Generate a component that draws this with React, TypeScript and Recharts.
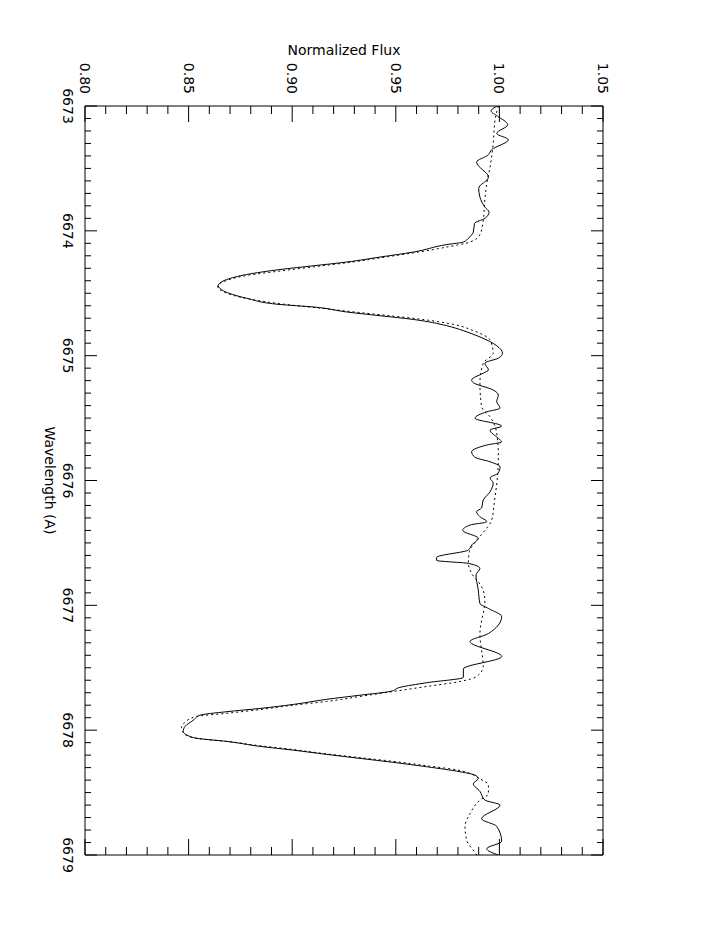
import { LineChart, Line, XAxis, YAxis, ReferenceArea } from "recharts";

// plot box in the landscape frame (the whole chart is turned 90deg clockwise)
const CHART_W = 952;
const CHART_H = 702;
const PLOT_L = 106;
const PLOT_R = 855;
const PLOT_T = 99;
const PLOT_B = 617;
const X_AXIS_H = 30;
const Y_AXIS_W = 40;
const FONT = "'DejaVu Sans', sans-serif";

const WAVE_MAJOR = [6673, 6674, 6675, 6676, 6677, 6678, 6679];
const FLUX_MAJOR = [0.8, 0.85, 0.9, 0.95, 1.0, 1.05];

// observed spectrum (solid)
const OBS_WAVE = [
  6673.0, 6673.04, 6673.08, 6673.15, 6673.22, 6673.27, 6673.35, 6673.39, 6673.45, 6673.57,
  6673.66, 6673.73, 6673.81, 6673.85, 6673.9, 6673.94, 6674.01, 6674.06, 6674.09, 6674.11,
  6674.17, 6674.21, 6674.25, 6674.28, 6674.31, 6674.35, 6674.39, 6674.44, 6674.48, 6674.54,
  6674.59, 6674.61, 6674.65, 6674.68, 6674.71, 6674.76, 6674.8, 6674.85, 6674.92, 6674.98,
  6675.02, 6675.06, 6675.115, 6675.14, 6675.195, 6675.216, 6675.275, 6675.315, 6675.368, 6675.42,
  6675.45, 6675.5, 6675.564, 6675.596, 6675.663, 6675.69, 6675.716, 6675.77, 6675.814, 6675.85,
  6675.89, 6675.94, 6675.98, 6676.02, 6676.09, 6676.157, 6676.22, 6676.25, 6676.29, 6676.33,
  6676.357, 6676.4, 6676.463, 6676.517, 6676.557, 6676.616, 6676.64, 6676.664, 6676.704, 6676.757,
  6676.877, 6676.985, 6677.025, 6677.09, 6677.226, 6677.29, 6677.41, 6677.51, 6677.577, 6677.62,
  6677.657, 6677.69, 6677.72, 6677.753, 6677.794, 6677.826, 6677.852, 6677.88, 6677.92, 6677.97,
  6678.01, 6678.05, 6678.065, 6678.09, 6678.13, 6678.16, 6678.194, 6678.226, 6678.258, 6678.293,
  6678.333, 6678.36, 6678.387, 6678.43, 6678.49, 6678.56, 6678.6, 6678.71, 6678.77, 6678.89,
  6678.95, 6679.0,
];
const OBS_FLUX = [
  0.999, 0.996, 0.999, 1.004, 0.9987, 1.0043, 0.9963, 0.9947, 0.989, 0.9947,
  0.99, 0.9906, 0.993, 0.995, 0.993, 0.988, 0.9874, 0.985, 0.9826, 0.9746,
  0.9585, 0.9424, 0.9263, 0.9102, 0.8941, 0.878, 0.8684, 0.8643, 0.8668, 0.878,
  0.8941, 0.9102, 0.9263, 0.9424, 0.9585, 0.9746, 0.9826, 0.9906, 0.9987, 1.0015,
  0.9995, 0.993, 0.9947, 0.9922, 0.9866, 0.9874, 0.997, 0.9995, 0.9987, 1.0003,
  0.9939, 0.9882, 1.0011, 0.9955, 0.9995, 1.0011, 0.9939, 0.9866, 0.9882, 0.9955,
  1.0003, 0.9995, 0.9955, 0.997, 0.9955, 0.9922, 0.9914, 0.989, 0.9906, 0.9939,
  0.9858, 0.9823, 0.9898, 0.9866, 0.985, 0.9697, 0.9697, 0.985, 0.9906, 0.9887,
  0.9898, 0.9906, 0.9947, 1.0011, 0.9947, 0.9858, 1.0011, 0.9826, 0.9826, 0.9649,
  0.952, 0.9472, 0.9327, 0.9166, 0.9005, 0.8845, 0.8684, 0.8555, 0.8523, 0.8483,
  0.8474, 0.8507, 0.8539, 0.8684, 0.8845, 0.9005, 0.9166, 0.9327, 0.9488, 0.9649,
  0.981, 0.9882, 0.9898, 0.9874, 0.9906, 0.993, 1.0003, 0.9914, 0.9987, 1.0011,
  0.9939, 0.9995,
];

// model spectrum (dotted)
const MODEL_WAVE = [
  6673.0, 6673.1, 6673.3, 6673.49, 6673.62, 6673.75, 6673.94, 6674.03, 6674.09, 6674.13,
  6674.17, 6674.21, 6674.25, 6674.285, 6674.32, 6674.355, 6674.4, 6674.445, 6674.49, 6674.545,
  6674.59, 6674.62, 6674.65, 6674.68, 6674.71, 6674.75, 6674.8, 6674.875, 6674.98, 6675.06,
  6675.22, 6675.41, 6675.49, 6675.62, 6675.81, 6675.98, 6676.18, 6676.317, 6676.4, 6676.48,
  6676.57, 6676.66, 6676.744, 6676.85, 6676.958, 6677.23, 6677.49, 6677.57, 6677.61, 6677.65,
  6677.69, 6677.73, 6677.77, 6677.8, 6677.835, 6677.865, 6677.89, 6677.94, 6677.98, 6678.02,
  6678.05, 6678.07, 6678.09, 6678.125, 6678.155, 6678.19, 6678.22, 6678.25, 6678.285, 6678.32,
  6678.39, 6678.44, 6678.51, 6678.56, 6678.67, 6678.77, 6678.88, 6678.98, 6679.0,
];
const MODEL_FLUX = [
  0.9995, 0.998, 0.997, 0.9955, 0.9939, 0.993, 0.992, 0.9906, 0.9858, 0.9746,
  0.961, 0.945, 0.929, 0.912, 0.895, 0.879, 0.868, 0.864, 0.867, 0.879,
  0.897, 0.914, 0.93, 0.947, 0.963, 0.978, 0.9875, 0.9955, 0.997, 0.9922,
  0.9906, 0.9914, 0.9955, 0.9987, 0.9995, 0.999, 0.9975, 0.9963, 0.993, 0.989,
  0.9855, 0.985, 0.9866, 0.9914, 0.993, 0.9906, 0.9922, 0.989, 0.981, 0.9649,
  0.9488, 0.9327, 0.9166, 0.9005, 0.8845, 0.8684, 0.8539, 0.848, 0.8466, 0.8475,
  0.8499, 0.856, 0.8684, 0.8845, 0.9005, 0.9166, 0.9327, 0.9488, 0.9649, 0.98,
  0.9906, 0.9947, 0.9947, 0.9906, 0.9858, 0.9834, 0.9842, 0.9882, 0.989,
];

const obsData = OBS_WAVE.map((w, i) => ({ w, f: OBS_FLUX[i] }));
const modelData = MODEL_WAVE.map((w, i) => ({ w, f: MODEL_FLUX[i] }));

// minor ticks every 0.1 A and every 0.01 in flux
const waveTicks: number[] = [];
for (let i = 0; i <= 60; i++) waveTicks.push(Math.round((6673 + i * 0.1) * 10) / 10);
const fluxTicks: number[] = [];
for (let i = 0; i <= 25; i++) fluxTicks.push(Math.round((0.8 + i * 0.01) * 100) / 100);

const isMajor = (majors: number[], v: number) => majors.some((m) => Math.abs(m - v) < 1e-6);

const renderWaveTick = (props: any) => {
  const { x, payload, index } = props;
  const v = Number(payload.value);
  const major = isMajor(WAVE_MAJOR, v);
  const len = major ? 12 : 6;
  return (
    <g key={`wt-${index}`}>
      <line x1={x} x2={x} y1={PLOT_B} y2={PLOT_B - len} stroke="#000" />
      <line x1={x} x2={x} y1={PLOT_T} y2={PLOT_T + len} stroke="#000" />
      {major && (
        <text x={x} y={PLOT_B + 17} textAnchor="middle" dominantBaseline="central"
          fontFamily={FONT} fontSize={14} fill="#000">
          {Math.round(v)}
        </text>
      )}
    </g>
  );
};

const renderFluxTick = (props: any) => {
  const { y, payload, index } = props;
  const v = Number(payload.value);
  const major = isMajor(FLUX_MAJOR, v);
  const len = major ? 16 : 8;
  return (
    <g key={`ft-${index}`}>
      <line x1={PLOT_L} x2={PLOT_L + len} y1={y} y2={y} stroke="#000" />
      <line x1={PLOT_R} x2={PLOT_R - len} y1={y} y2={y} stroke="#000" />
      {major && (
        <text x={PLOT_L - 12} y={y} textAnchor="end" dominantBaseline="central"
          fontFamily={FONT} fontSize={14} fill="#000">
          {v.toFixed(2)}
        </text>
      )}
    </g>
  );
};

export default function App() {
  return (
    <div style={{ position: "absolute", left: 0, top: 0, width: 702, height: 952, overflow: "hidden", background: "#fff" }}>
      <div
        style={{
          position: "absolute", left: 0, top: 0, width: CHART_W, height: CHART_H,
          transformOrigin: "0 0", transform: `translate(${CHART_H}px, 0) rotate(90deg)`,
        }}
      >
        <LineChart width={CHART_W} height={CHART_H}
          margin={{
            top: PLOT_T,
            right: CHART_W - PLOT_R,
            bottom: CHART_H - PLOT_B - X_AXIS_H,
            left: PLOT_L - Y_AXIS_W,
          }}>
          <XAxis dataKey="w" type="number" domain={[6673, 6679]} ticks={waveTicks} interval={0}
            allowDataOverflow height={X_AXIS_H} axisLine={false} tickLine={false} tick={renderWaveTick} />
          <YAxis type="number" domain={[0.8, 1.05]} ticks={fluxTicks} interval={0}
            allowDataOverflow width={Y_AXIS_W} axisLine={false} tickLine={false} tick={renderFluxTick} />
          <ReferenceArea x1={6673} x2={6679} y1={0.8} y2={1.05} fill="none" stroke="#000" strokeWidth={1} />
          <Line data={modelData} dataKey="f" type="monotone" stroke="#000" strokeWidth={1}
            strokeDasharray="2 3" dot={false} isAnimationActive={false} />
          <Line data={obsData} dataKey="f" type="monotone" stroke="#000" strokeWidth={1}
            dot={false} isAnimationActive={false} />
          <text x={(PLOT_L + PLOT_R) / 2} y={652} textAnchor="middle" dominantBaseline="central"
            fontFamily={FONT} fontSize={14} fill="#000">
            Wavelength (A)
          </text>
          <text x={50} y={(PLOT_T + PLOT_B) / 2} textAnchor="middle" dominantBaseline="central"
            transform={`rotate(-90 50 ${(PLOT_T + PLOT_B) / 2})`}
            fontFamily={FONT} fontSize={14} fill="#000">
            Normalized Flux
          </text>
        </LineChart>
      </div>
    </div>
  );
}
